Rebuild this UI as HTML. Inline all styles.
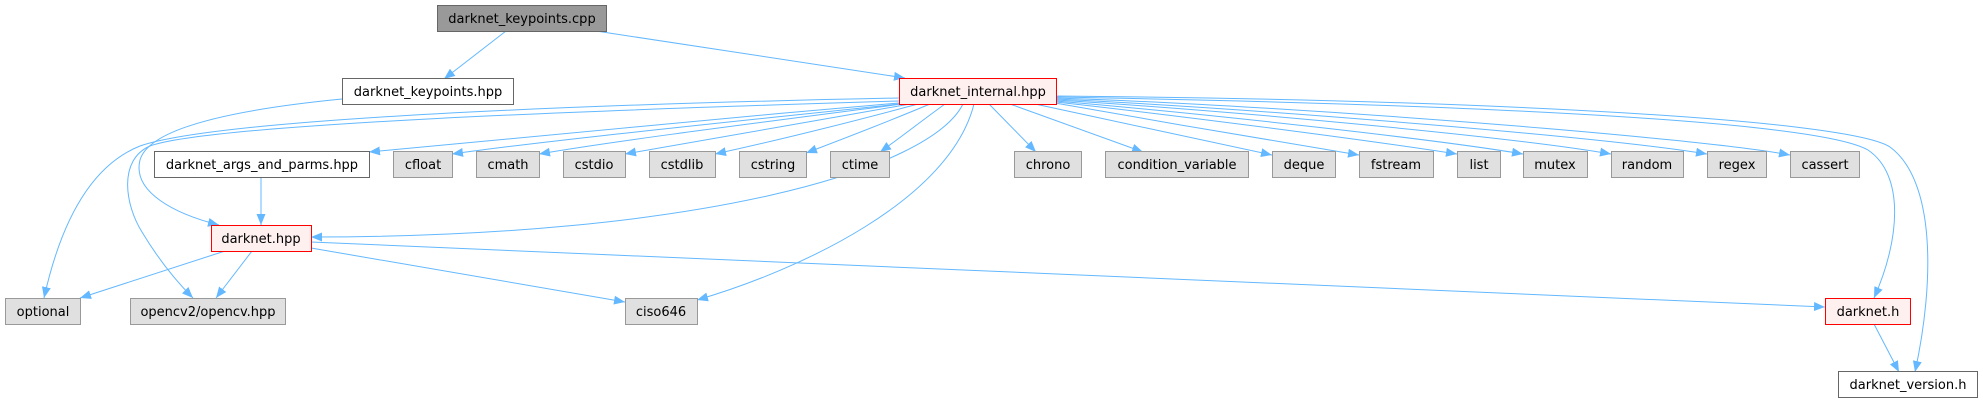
<!DOCTYPE html>
<html><head><meta charset="utf-8"><style>
html,body{margin:0;padding:0;background:#fff;}
svg text{font-family:"DejaVu Sans","Liberation Sans",sans-serif;font-size:13px;fill:#000;text-anchor:middle;}
.g{fill:#e0e0e0;stroke:#999;stroke-width:1}
.w{fill:#fff;stroke:#666;stroke-width:1}
.r{fill:#fff0f0;stroke:#f00;stroke-width:1}
.c{fill:#999;stroke:#666;stroke-width:1}
.e{fill:none;stroke:#63b8ff;stroke-width:1;marker-end:url(#a)}
</style></head><body>
<svg width="1983" height="403" xmlns="http://www.w3.org/2000/svg">
<defs><marker id="a" markerUnits="userSpaceOnUse" markerWidth="12" markerHeight="10" refX="11" refY="5" orient="auto"><path d="M0,0.5 L11,5 L0,9.5 z" fill="#63b8ff"/></marker></defs>
<!-- edges -->
<path class="e" d="M506,31 L444,79"/>
<path class="e" d="M596,31 L905,78"/>
<path class="e" d="M342,99 C250,108 150,125 140,160 C132,192 175,214 219,225"/>
<path class="e" d="M899,98 C600,104 220,118 140,146 C85,168 58,235 44,298"/>
<path class="e" d="M899,101 C600,110 210,124 150,146 C118,160 125,205 142,232 C160,262 180,285 193,298"/>
<path class="e" d="M899,103 C700,120 470,142 369,152"/>
<path class="e" d="M899,104 C750,120 550,140 452,154"/>
<path class="e" d="M902,104 C780,120 620,140 539,154"/>
<path class="e" d="M910,104 C810,122 700,140 625,154"/>
<path class="e" d="M918,104 C840,125 770,142 715,154"/>
<path class="e" d="M930,104 C880,125 840,140 806,153"/>
<path class="e" d="M945,104 C920,122 900,138 880,152"/>
<path class="e" d="M963,104 C930,170 700,237 311,237"/>
<path class="e" d="M974,104 C950,200 800,270 697,300"/>
<path class="e" d="M989,104 L1036,152"/>
<path class="e" d="M1010,104 L1143,152"/>
<path class="e" d="M1035,104 L1272,155"/>
<path class="e" d="M1055,103 C1150,120 1280,142 1359,155"/>
<path class="e" d="M1056,102 C1200,118 1380,142 1457,154"/>
<path class="e" d="M1056,101 C1220,115 1440,140 1523,154"/>
<path class="e" d="M1056,100 C1250,112 1520,138 1611,154"/>
<path class="e" d="M1056,99 C1280,110 1610,138 1707,154"/>
<path class="e" d="M1056,98 C1300,106 1700,138 1790,155"/>
<path class="e" d="M1056,97 C1500,105 1820,122 1868,150 C1905,175 1900,240 1874,298"/>
<path class="e" d="M1056,96 C1500,100 1850,120 1890,147 C1935,180 1935,280 1915,372"/>
<path class="e" d="M1874,324 L1899,372"/>
<path class="e" d="M311,242 L1825,307"/>
<path class="e" d="M311,248 L625,302"/>
<path class="e" d="M225,251 L80,298"/>
<path class="e" d="M252,251 L216,298"/>
<path class="e" d="M261,177 L261,225"/>
<!-- nodes -->
<rect class="c" x="437.5" y="5.5" width="169" height="26"/><text x="522" y="23">darknet_keypoints.cpp</text>
<rect class="w" x="342.5" y="78.5" width="171" height="26"/><text x="428" y="96">darknet_keypoints.hpp</text>
<rect class="r" x="899.5" y="78.5" width="157" height="26"/><text x="978" y="96">darknet_internal.hpp</text>
<rect class="w" x="154.5" y="151.5" width="215" height="26"/><text x="262" y="169">darknet_args_and_parms.hpp</text>
<rect class="g" x="393.5" y="151.5" width="59" height="26"/><text x="423" y="169">cfloat</text>
<rect class="g" x="476.5" y="151.5" width="63" height="26"/><text x="508" y="169">cmath</text>
<rect class="g" x="563.5" y="151.5" width="62" height="26"/><text x="594" y="169">cstdio</text>
<rect class="g" x="649.5" y="151.5" width="66" height="26"/><text x="682" y="169">cstdlib</text>
<rect class="g" x="739.5" y="151.5" width="67" height="26"/><text x="773" y="169">cstring</text>
<rect class="g" x="830.5" y="151.5" width="59" height="26"/><text x="860" y="169">ctime</text>
<rect class="g" x="1014.5" y="151.5" width="67" height="26"/><text x="1048" y="169">chrono</text>
<rect class="g" x="1105.5" y="151.5" width="143" height="26"/><text x="1177" y="169">condition_variable</text>
<rect class="g" x="1272.5" y="151.5" width="63" height="26"/><text x="1304" y="169">deque</text>
<rect class="g" x="1359.5" y="151.5" width="74" height="26"/><text x="1396" y="169">fstream</text>
<rect class="g" x="1457.5" y="151.5" width="43" height="26"/><text x="1479" y="169">list</text>
<rect class="g" x="1523.5" y="151.5" width="64" height="26"/><text x="1555" y="169">mutex</text>
<rect class="g" x="1611.5" y="151.5" width="72" height="26"/><text x="1647" y="169">random</text>
<rect class="g" x="1707.5" y="151.5" width="59" height="26"/><text x="1737" y="169">regex</text>
<rect class="g" x="1790.5" y="151.5" width="69" height="26"/><text x="1825" y="169">cassert</text>
<rect class="r" x="211.5" y="225.5" width="100" height="26"/><text x="261" y="243">darknet.hpp</text>
<rect class="g" x="5.5" y="298.5" width="75" height="26"/><text x="43" y="316">optional</text>
<rect class="g" x="130.5" y="298.5" width="155" height="26"/><text x="208" y="316">opencv2/opencv.hpp</text>
<rect class="g" x="625.5" y="298.5" width="72" height="26"/><text x="661" y="316">ciso646</text>
<rect class="r" x="1825.5" y="298.5" width="85" height="26"/><text x="1868" y="316">darknet.h</text>
<rect class="w" x="1838.5" y="371.5" width="139" height="26"/><text x="1908" y="389">darknet_version.h</text>
</svg>
</body></html>
